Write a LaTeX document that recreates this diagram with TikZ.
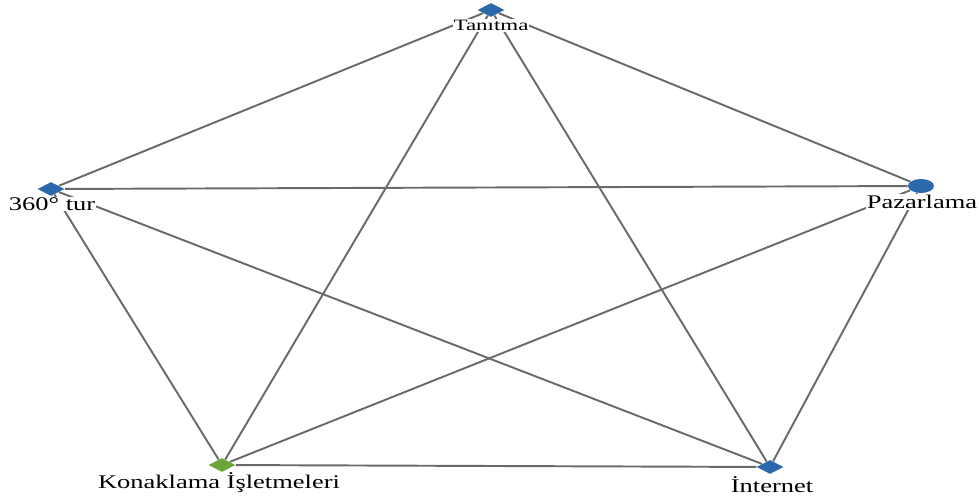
\documentclass[tikz,border=0pt]{standalone}
\usepackage{fontspec}
\setmainfont{Liberation Serif}
\usepackage{graphicx}
\usetikzlibrary{shapes.geometric}

\definecolor{nodeblue}{HTML}{2C69AC}
\definecolor{nodegreen}{HTML}{6BA63A}
\definecolor{edgegray}{HTML}{6A6A6A}
\newcommand{\wide}[1]{\scalebox{1.37}[1]{#1}}

\begin{document}
\begin{tikzpicture}[x=0.02cm,y=-0.02cm,
  dmark/.style={diamond,fill=nodeblue,inner sep=0pt,minimum width=0.54cm,minimum height=0.28cm},
  emark/.style={ellipse,fill=nodeblue,inner sep=0pt,minimum width=0.52cm,minimum height=0.28cm},
  edge/.style={edgegray,line width=1.1pt},
  lbl/.style={fill=white,inner sep=0.5pt,font=\fontsize{11}{12}\selectfont}]
\useasboundingbox (0,0) rectangle (979,496);
\node[dmark] (T) at (491,10) {};
\node[dmark] (S) at (51,189) {};
\node[emark] (P) at (921,186) {};
\node[dmark,fill=nodegreen] (K) at (222,465) {};
\node[dmark] (I) at (770,467) {};
\draw[edge] (T)--(S);
\draw[edge] (T)--(P);
\draw[edge] (T)--(K);
\draw[edge] (T)--(I);
\draw[edge] (S)--(P);
\draw[edge] (S)--(K);
\draw[edge] (S)--(I);
\draw[edge] (P)--(K);
\draw[edge] (P)--(I);
\draw[edge] (K)--(I);
\node[lbl,font=\fontsize{9}{10}\selectfont] (Tl) at (491,25.5) {\scalebox{1.45}[1]{Tanıtma}};
\node[lbl] (Sl) at (52,204) {\wide{360° tur}};
\node[lbl] (Pl) at (922,202) {\wide{Pazarlama}};
\node[lbl] (Kl) at (219,483) {\wide{Konaklama İşletmeleri}};
\node[lbl] (Il) at (772,485) {\wide{İnternet}};
\end{tikzpicture}
\end{document}
